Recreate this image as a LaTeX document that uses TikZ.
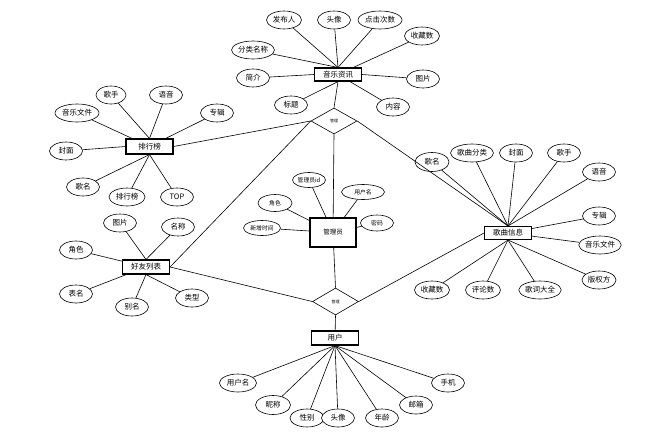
\documentclass[tikz,border=0pt]{standalone}
\usepackage{fontspec}
\newfontfamily\cjk{Noto Sans CJK SC}
\usetikzlibrary{shapes.geometric}
\begin{document}
\begin{tikzpicture}[x=1pt,y=-1pt,
  every node/.style={font=\cjk\fontsize{7.5}{8}\selectfont, inner sep=0pt},
  ent/.style={draw, line width=1.1pt, fill=white, minimum width=47pt, minimum height=13pt},
  attr/.style={ellipse, draw, line width=0.6pt, fill=white, minimum width=33pt, minimum height=18pt},
  wattr/.style={attr, minimum width=44pt},
  sattr/.style={attr, minimum width=33pt, minimum height=16pt, font=\cjk\fontsize{5.8}{6}\selectfont},
  rel/.style={diamond, draw, line width=0.6pt, fill=white, minimum width=46pt, minimum height=26pt, font=\cjk\fontsize{4}{4}\selectfont},
  ln/.style={line width=0.6pt}]
\fill[white] (0,0) rectangle (663,447);
\useasboundingbox (0,0) rectangle (663,447);

% entities
\node[ent] (news) at (338,74.5) {音乐资讯};
\node[ent, minimum height=15pt] (rank) at (149.5,146.5) {排行榜};
\node[ent, minimum height=14pt] (friend) at (146,267) {好友列表};
\node[ent, minimum width=46pt, minimum height=29pt, font=\cjk\fontsize{6.5}{7}\selectfont] (admin) at (333,232.5) {管理员};
\node[ent] (song) at (508,233) {歌曲信息};
\node[ent, minimum height=14pt] (user) at (335,338) {用户};

% relations
\node[rel] (topd) at (334,121) {管理};
\node[rel, minimum height=27pt] (botd) at (335.5,301.5) {管理};

% news attributes
\node[attr, minimum width=35pt] (n1) at (284,20) {发布人};
\node[attr] (n2) at (334,20) {头像};
\node[wattr] (n3) at (380,20) {点击次数};
\node[attr, minimum width=35pt] (n4) at (422,36) {收藏数};
\node[wattr, minimum width=43pt] (n5) at (253,50) {分类名称};
\node[attr] (n6) at (253,78) {简介};
\node[attr] (n7) at (423,79) {图片};
\node[attr] (n8) at (291,105) {标题};
\node[attr] (n9) at (393,107) {内容};

% rank attributes
\node[attr, minimum width=30pt] (r1) at (111,95) {歌手};
\node[attr] (r2) at (166,95) {语音};
\node[wattr] (r3) at (77,113) {音乐文件};
\node[attr] (r4) at (217,113) {专辑};
\node[attr] (r5) at (66,151) {封面};
\node[attr] (r6) at (83,187) {歌名};
\node[attr, minimum width=36pt] (r7) at (127,197) {排行榜};
\node[attr] (r8) at (177,197) {TOP};

% friend attributes
\node[attr] (f1) at (120,223) {图片};
\node[attr] (f2) at (178,227) {名称};
\node[attr] (f3) at (76,250) {角色};
\node[attr] (f4) at (76,294) {表名};
\node[attr] (f5) at (132,307) {别名};
\node[attr] (f6) at (192,298) {类型};

% admin attributes
\node[sattr, minimum height=15pt] (a1) at (309,180) {管理员id};
\node[sattr, minimum width=43pt, minimum height=15pt] (a2) at (363,192) {用户名};
\node[sattr, minimum width=34pt, minimum height=17pt] (a3) at (275,203) {角色};
\node[sattr] (a4) at (377,223) {密码};
\node[sattr, minimum width=37pt, minimum height=15pt] (a5) at (262,228) {新增时间};

% song attributes
\node[attr, minimum width=34pt, minimum height=19pt] (s1) at (432,162) {歌名};
\node[wattr, minimum width=43pt] (s2) at (472,153) {歌曲分类};
\node[attr] (s3) at (516,153) {封面};
\node[attr] (s4) at (564,153) {歌手};
\node[attr] (s5) at (599,172) {语音};
\node[attr] (s6) at (599,216) {专辑};
\node[wattr, minimum width=42pt] (s7) at (600,245) {音乐文件};
\node[attr, minimum width=34pt] (s8) at (599,280) {版权方};
\node[attr, minimum width=35pt] (s9) at (432,290) {收藏数};
\node[attr, minimum width=35pt] (s10) at (483,290) {评论数};
\node[wattr, minimum width=40pt] (s11) at (540,290) {歌词大全};

% user attributes
\node[attr, minimum width=37pt] (u1) at (238,383) {用户名};
\node[attr, minimum width=35pt, minimum height=19pt] (u2) at (273,405) {昵称};
\node[attr, minimum width=34pt] (u3) at (307,418) {性别};
\node[attr] (u4) at (338,418) {头像};
\node[attr] (u5) at (382,418) {年龄};
\node[attr] (u6) at (416,405) {邮箱};
\node[attr] (u7) at (448,383) {手机};

% connectors: relations
\draw[ln] (news.south) -- (topd.north);
\draw[ln] (rank.east) -- (topd.west);
\draw[ln] (friend.east) -- (topd.west);
\draw[ln] (song.north) -- (topd.east);
\draw[ln] (admin) -- (topd.south);
\draw[ln] (admin) -- (botd.north);
\draw[ln] (friend.east) -- (botd.west);
\draw[ln] (song.west) -- (botd.east);
\draw[ln] (user) -- (botd.south);

% connectors: news
\foreach \a in {n1,n2,n3,n5} \draw[ln] (\a) -- (news.north);
\draw[ln] (n4) -- (news);
\draw[ln] (n7) -- (news.east);
\draw[ln] (n9) -- (news);
\draw[ln] (n6) -- (news.west);
\draw[ln] (n8) -- (news.south);

% connectors: rank
\foreach \a in {r1,r2} \draw[ln] (\a) -- (rank.north);
\draw[ln] (r3) -- (rank);
\draw[ln] (r4) -- (rank);
\draw[ln] (r5) -- (rank.west);
\foreach \a in {r6,r7,r8} \draw[ln] (\a) -- (rank.south);

% connectors: friend
\foreach \a in {f1,f2} \draw[ln] (\a) -- (friend.north);
\foreach \a in {f3,f4} \draw[ln] (\a) -- (friend);
\foreach \a in {f5,f6} \draw[ln] (\a) -- (friend.south);

% connectors: admin
\foreach \a in {a1,a2,a3,a4,a5} \draw[ln] (\a) -- (admin);

% connectors: song
\foreach \a in {s1,s2,s3,s4,s5} \draw[ln] (\a) -- (song.north);
\foreach \a in {s6,s7} \draw[ln] (\a) -- (song);
\foreach \a in {s8,s9,s10,s11} \draw[ln] (\a) -- (song.south);

% connectors: user
\foreach \a in {u1,u2,u3,u4,u5,u6,u7} \draw[ln] (\a) -- (user.south);
\end{tikzpicture}
\end{document}
